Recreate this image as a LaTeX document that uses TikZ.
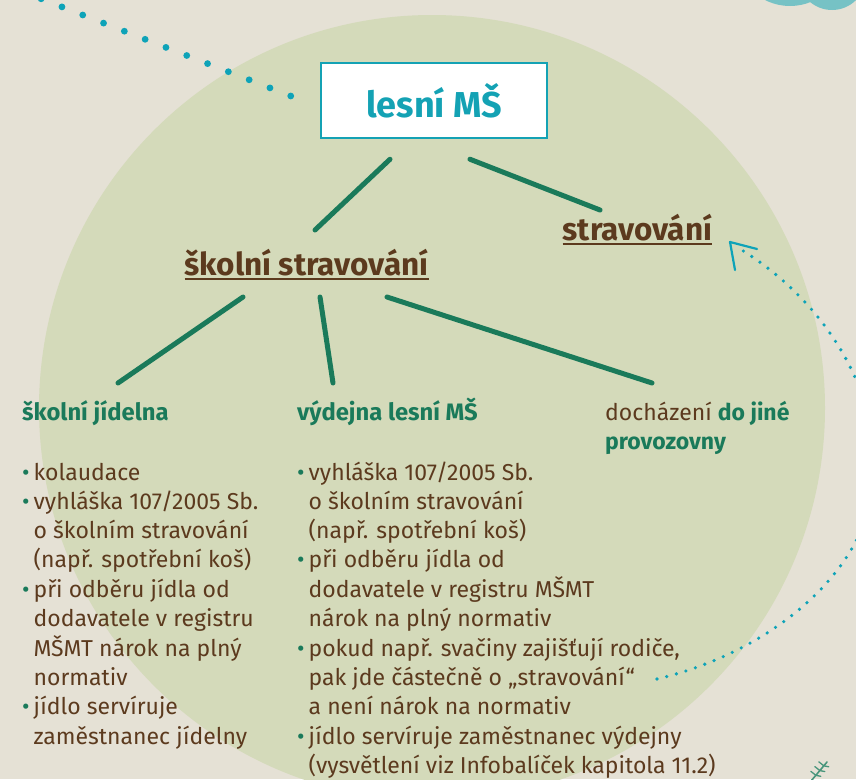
\documentclass[tikz,border=0pt]{standalone}
\usepackage{fontspec}
\setmainfont{Fira Sans}
\usetikzlibrary{calc}

\definecolor{bgcol}{HTML}{E5E1D5}
\definecolor{circcol}{HTML}{D4DABA}
\definecolor{boxteal}{HTML}{14A2B4}
\definecolor{dotteal}{HTML}{0EA3B8}
\definecolor{cloudteal}{HTML}{76C2C5}
\definecolor{dgreen}{HTML}{1A7A5A}
\definecolor{brn}{HTML}{5C3A1E}

\newcommand\ulin[1]{\setbox0\hbox{#1}\rlap{\rule[-4.5pt]{\wd0}{2pt}}\box0}
\newcommand\bu{{\color{dgreen}•}}

\begin{document}
\begin{tikzpicture}
	[x=1pt,y=-1pt,
		conn/.style={draw=dgreen,line width=5pt,line cap=round},
		mainbox/.style={draw=boxteal,line width=2.5pt,fill=white,minimum width=226pt,minimum height=75pt,inner sep=0pt,text=boxteal,font=\bfseries\fontsize{36}{40}\selectfont},
		topic/.style={inner sep=0pt,text=brn,font=\bfseries\fontsize{31.5}{34}\selectfont},
		sub/.style={inner sep=0pt,text=dgreen,font=\bfseries\fontsize{23.8}{29.3}\selectfont,anchor=base west},
		list/.style={inner sep=0pt,text=brn,font=\fontsize{23}{29.3}\selectfont,anchor=base west},
		dotline/.style={draw=dotteal,line width=3.6pt,line cap=round,dash pattern=on 0pt off 10pt}]

	\useasboundingbox (0,0) rectangle (856,779);
	\fill[bgcol] (0,0) rectangle (856,779);
	\fill[circcol] (432,408) circle (393);
	\fill[cloudteal] (790,-49) circle (55);
	\fill[cloudteal] (832,-24) circle (34);

	% uzly
	\node[mainbox] (lesni) at (434,100.5) {lesní MŠ};
	\node[topic,anchor=base] (ss) at (306.5,275) {\ulin{školní stravování}};
	\node[topic,anchor=base] (strav) at (637.5,240) {\ulin{stravování}};
	\node[sub] (jid) at (22,420) {školní jídelna};
	\node[sub] (vyd) at (297,420) {výdejna lesní MŠ};
	\node[list] (doch) at (605,420) {\begin{tabular}[t]{@{}l@{}}
			docházení {\color{dgreen}\bfseries do jiné}\\
			{\color{dgreen}\bfseries provozovny}
		\end{tabular}};

	\node[list] (jidlist) at (22,480) {\begin{tabular}[t]{@{}l@{\hspace{4pt}}l@{}}
			\bu & kolaudace\\
			\bu & vyhláška 107/2005 Sb.\\
			    & o školním stravování\\
			    & (např. spotřební koš)\\
			\bu & při odběru jídla od\\
			    & dodavatele v registru\\
			    & MŠMT nárok na plný\\
			    & normativ\\
			\bu & jídlo servíruje\\
			    & zaměstnanec jídelny
		\end{tabular}};
	\node[list] (vydlist) at (297,480) {\begin{tabular}[t]{@{}l@{\hspace{4pt}}l@{}}
			\bu & vyhláška 107/2005 Sb.\\
			    & o školním stravování\\
			    & (např. spotřební koš)\\
			\bu & při odběru jídla od\\
			    & dodavatele v registru MŠMT\\
			    & nárok na plný normativ\\
			\bu & pokud např. svačiny zajišťují rodiče,\\
			    & pak jde částečně o „stravování“\\
			    & a není nárok na normativ\\
			\bu & jídlo servíruje zaměstnanec výdejny\\
			    & (vysvětlení viz Infobalíček kapitola 11.2)
		\end{tabular}};

	% spojnice
	\path[conn]
	($(lesni.south)+(-44,20)$) edge ($(ss.base)+(8.5,-45)$)
	($(lesni.south)+(36,20)$)  edge ($(strav.base)+(-37.5,-30)$)
	($(ss.base)+(-63.5,22)$)   edge ($(jid.base west)+(96,-37)$)
	($(ss.base)+(13.5,22)$)    edge ($(vyd.base west)+(36,-37)$)
	($(ss.base)+(80.5,22)$)    edge ($(doch.base west)+(47,-37)$);

	% tečkované čáry
	\coordinate (dotend) at ($(lesni.west)+(-29,-4.5)$);
	\foreach \k in {0,...,12}
		\fill[dotteal] ($(dotend)+(-20.8*\k,-8.1*\k)$) circle (3.4);

	\coordinate (qstart) at ($(vydlist.base west)+(360,199)$);
	\coordinate (atip) at ($(strav.base)+(92.5,2)$);
	\draw[dotline] (qstart) .. controls (780,650) and (880,560) .. (875,460)
		.. controls (870,360) and (800,285) .. ($(atip)+(10,7)$);
	\draw[dotteal,line width=2.2pt,line cap=round,line join=round]
		($(atip)+(27,7)$) -- (atip) -- ($(atip)+(5,28)$);

	% rostlinka
	\draw[dgreen!80,line width=1.6pt,line cap=round] (811,781) -- (827,762);
	\foreach \t in {0.3,0.55,0.8}
		\draw[dgreen!80,line width=1.3pt,line cap=round]
			($(811,781)!\t!(827,762)$) -- +(-5,-4)
			($(811,781)!\t!(827,762)$) -- +(5,1);

\end{tikzpicture}
\end{document}
